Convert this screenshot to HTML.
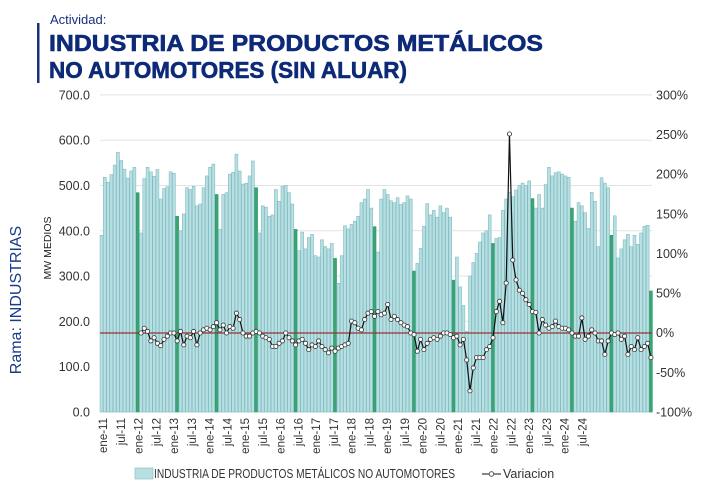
<!DOCTYPE html>
<html><head><meta charset="utf-8"><style>
body{margin:0;background:#fff;width:710px;height:495px;overflow:hidden;font-family:"Liberation Sans",sans-serif}
</style></head><body>
<svg id="s" width="710" height="495" xmlns="http://www.w3.org/2000/svg" font-family="Liberation Sans, sans-serif"></svg>
<script>
const v=[390,518,507,524,545,573,555,536,516,532,540,484,
395,515,540,530,520,535,470,493,497,530,527,432,
400,437,495,491,498,455,459,495,521,540,547,480,
403,480,484,525,529,569,532,503,505,521,554,495,
395,455,452,432,435,491,465,498,500,484,459,403,
356,397,360,385,392,345,342,380,365,360,372,339,
284,345,411,404,414,421,432,462,470,491,450,409,
353,470,491,480,466,462,473,458,462,477,470,311,
328,361,410,460,435,445,430,455,440,450,430,291,
342,276,235,178,300,330,350,375,395,400,435,372,
383,385,445,470,485,475,490,500,505,500,510,471,
450,480,450,502,540,521,528,530,525,521,518,450,
421,462,455,440,405,485,465,365,517,505,495,390,
433,340,360,380,392,365,390,370,395,410,412,267];
const p=[0,6,2,-10,-6,-13,-16,-8,-4,0,0,-10,
2,-15,-4,-6,2,-15,0,4,6,4,8,13,
4,10,0,8,6,25,17,0,-4,-4,0,2,
0,-4,-6,-8,-17,-17,-13,-10,0,-6,-10,-15,
-10,-8,-13,-21,-15,-17,-10,-17,-21,-25,-19,-23,
-19,-17,-15,-13,15,13,6,4,17,25,27,21,
27,23,25,36,17,21,17,13,10,8,0,-2,
-23,-8,-21,-13,-8,-6,-8,-4,0,0,-2,-6,
-4,-15,-8,-34,-73,-44,-31,-31,-31,-21,-17,-6,
27,40,13,63,251,92,67,54,50,42,36,27,
26,0,17,10,6,8,15,8,6,6,4,0,
-4,-4,19,-8,-4,4,0,-10,-10,-27,-10,0,
-2,0,-8,-4,-27,-17,-21,-6,-21,-17,-13,-31];
let h='';
const y0=412,k=0.4531,X=i=>101.5+3.29*i;
for(let g=0;g<=7;g++){const y=y0-g*45.3;h+=`<line x1="100" x2="652" y1="${y}" y2="${y}" stroke="#e3e3e3" stroke-width="1"/>`;
h+=`<text x="90" y="${y+4.5}" font-size="12.5" fill="#333" text-anchor="end">${(g*100).toFixed(1)}</text>`;}
for(let j=0;j<=8;j++){const y=y0-j*39.63;h+=`<text x="656" y="${y+4.5}" font-size="12.5" fill="#333">${j*50-100}%</text>`;}
v.forEach((d,i)=>{const g=i%12==11;const x=X(i)-1.45,hh=d*k;
h+=`<rect x="${x}" y="${y0-hh}" width="2.9" height="${hh}" fill="${g?'#3aa474':'#b8dfe2'}" stroke="${g?'#2f9a68':'#80bcc2'}" stroke-width="0.6"/>`;});
h+=`<line x1="100" x2="652" y1="333" y2="333" stroke="#9b3030" stroke-width="1.2"/>`;
let pts=p.map((d,i)=>[X(i+12),333-d*0.793]);
h+=`<polyline points="${pts.map(q=>q.join(',')).join(' ')}" fill="none" stroke="#111" stroke-width="1.2"/>`;
pts.forEach(q=>h+=`<circle cx="${q[0]}" cy="${q[1]}" r="2.1" fill="#fff" stroke="#333" stroke-width="0.8"/>`);
const yrs=['11','12','13','14','15','16','17','18','19','20','21','22','23','24'];
let n=0;yrs.forEach(y=>{['ene','jul'].forEach(m=>{const x=103+17.75*n;n++;
h+=`<text transform="translate(${x+4},418) rotate(-90)" font-size="11.5" fill="#333" text-anchor="end">${m}-${y}</text>`;});});
h+=`<rect x="37" y="23" width="2.5" height="60" fill="#1a2f80"/>`;
h+=`<text x="50" y="24" font-size="13" fill="#1a2f80">Actividad:</text>`;
h+=`<text x="49" y="51" font-size="23" font-weight="bold" fill="#0d2a78" stroke="#0d2a78" stroke-width="0.6" textLength="494" lengthAdjust="spacingAndGlyphs">INDUSTRIA DE PRODUCTOS METÁLICOS</text>`;
h+=`<text x="49" y="78" font-size="23" font-weight="bold" fill="#0d2a78" stroke="#0d2a78" stroke-width="0.6" textLength="358" lengthAdjust="spacingAndGlyphs">NO AUTOMOTORES (SIN ALUAR)</text>`;
h+=`<text transform="translate(21,300) rotate(-90)" font-size="16" fill="#1a3a8a" text-anchor="middle">Rama: INDUSTRIAS</text>`;
h+=`<text transform="translate(51,248) rotate(-90)" font-size="10.5" fill="#222" text-anchor="middle">MW MEDIOS</text>`;
h+=`<rect x="135" y="468" width="18" height="11" fill="#b8dfe2" stroke="#80bcc2" stroke-width="0.6"/>`;
h+=`<text x="154" y="478" font-size="12.5" fill="#333" textLength="301" lengthAdjust="spacingAndGlyphs">INDUSTRIA DE PRODUCTOS METÁLICOS NO AUTOMOTORES</text>`;
h+=`<line x1="482" x2="501" y1="474" y2="474" stroke="#111" stroke-width="1"/><circle cx="491.5" cy="474" r="2.3" fill="#fff" stroke="#333" stroke-width="0.8"/>`;
h+=`<text x="503" y="478" font-size="12.5" fill="#333">Variacion</text>`;
document.getElementById('s').innerHTML=h;
</script>
</body></html>
